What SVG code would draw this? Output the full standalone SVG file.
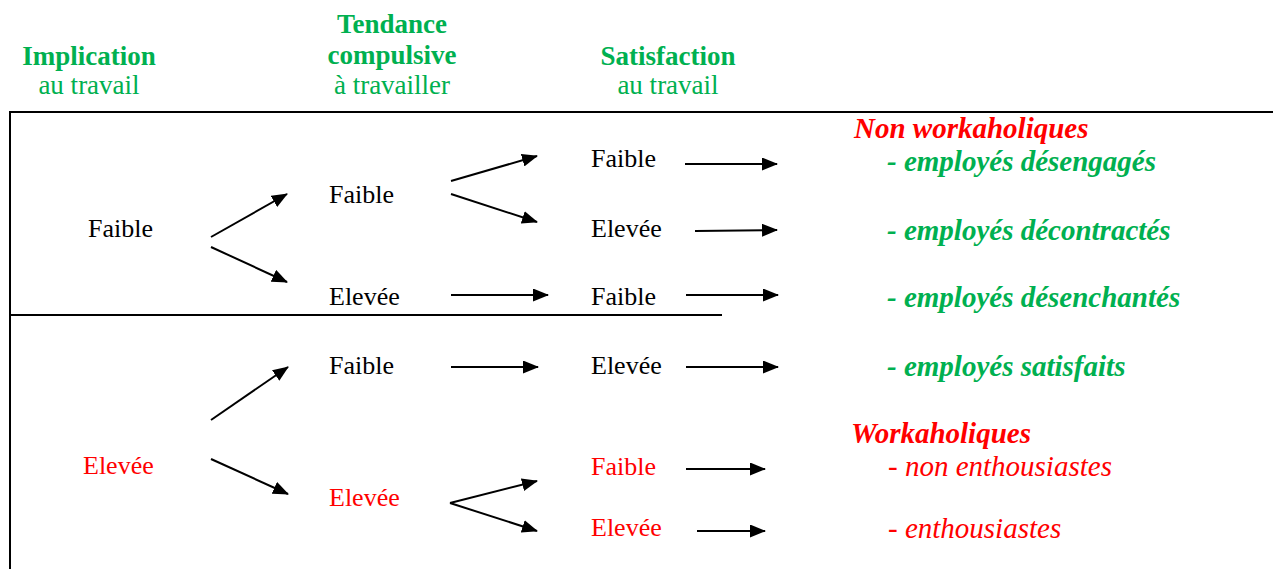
<svg xmlns="http://www.w3.org/2000/svg" width="1273" height="569" viewBox="0 0 1273 569">
  <style>
    text { font-family: "Liberation Serif", "Times New Roman", serif; font-size: 26px; }
    .head { fill: #00b050; text-anchor: middle; font-size: 27px; }
    .b { font-weight: bold; }
    .blk { fill: #000; }
    .red { fill: #ff0000; }
    .grn { fill: #00b050; }
    .bi { font-weight: bold; font-style: italic; font-size: 29px; }
    .it { font-style: italic; font-size: 29px; }
    .frame { stroke: #000; stroke-width: 2; fill: none; }
    .arr { stroke: #000; stroke-width: 2; fill: none; marker-end: url(#ah); }
  </style>
  <defs>
    <marker id="ah" viewBox="0 0 16 13" refX="15" refY="6.5" markerWidth="16" markerHeight="13" markerUnits="userSpaceOnUse" orient="auto">
      <path d="M0,0 L16,6.5 L0,13 Z" fill="#000"/>
    </marker>
  </defs>

  <!-- column headers -->
  <g id="header-implication">
    <text class="head b" x="89" y="65">Implication</text>
    <text class="head" x="89" y="94">au travail</text>
  </g>
  <g id="header-tendance">
    <text class="head b" x="392" y="33">Tendance</text>
    <text class="head b" x="392" y="64">compulsive</text>
    <text class="head" x="392" y="94">à travailler</text>
  </g>
  <g id="header-satisfaction">
    <text class="head b" x="668" y="65">Satisfaction</text>
    <text class="head" x="668" y="94">au travail</text>
  </g>

  <!-- frame lines -->
  <g id="frame">
    <path class="frame" d="M1273,112 H10 V569"/>
    <path class="frame" d="M10,315 H722"/>
  </g>

  <!-- implication level -->
  <g id="impl-faible"><text class="blk" x="88" y="237">Faible</text></g>
  <g id="impl-elevee"><text class="red" x="83" y="474">Elevée</text></g>

  <!-- compulsive tendency level -->
  <g id="tend-faible-1"><text class="blk" x="329" y="203">Faible</text></g>
  <g id="tend-elevee-1"><text class="blk" x="329" y="305">Elevée</text></g>
  <g id="tend-faible-2"><text class="blk" x="329" y="374">Faible</text></g>
  <g id="tend-elevee-2"><text class="red" x="329" y="506">Elevée</text></g>

  <!-- satisfaction level -->
  <g id="sat-1"><text class="blk" x="591" y="167">Faible</text></g>
  <g id="sat-2"><text class="blk" x="591" y="237">Elevée</text></g>
  <g id="sat-3"><text class="blk" x="591" y="305">Faible</text></g>
  <g id="sat-4"><text class="blk" x="591" y="374">Elevée</text></g>
  <g id="sat-5"><text class="red" x="591" y="475">Faible</text></g>
  <g id="sat-6"><text class="red" x="591" y="536">Elevée</text></g>

  <!-- outcome groups -->
  <g id="non-workaholiques">
    <text class="red bi" x="854" y="138">Non workaholiques</text>
    <text class="grn bi" x="887" y="171">- employés désengagés</text>
    <text class="grn bi" x="887" y="240">- employés décontractés</text>
    <text class="grn bi" x="887" y="307">- employés désenchantés</text>
    <text class="grn bi" x="887" y="376">- employés satisfaits</text>
  </g>
  <g id="workaholiques">
    <text class="red bi" x="851" y="443">Workaholiques</text>
    <text class="red it" x="888" y="476">- non enthousiastes</text>
    <text class="red it" x="888" y="538">- enthousiastes</text>
  </g>

  <!-- connectors -->
  <g id="connectors">
    <path class="arr" d="M211,237 L287,194"/>
    <path class="arr" d="M211,247 L287,282"/>
    <path class="arr" d="M451,181 L537,156"/>
    <path class="arr" d="M451,194 L537,222"/>
    <path class="arr" d="M451,295 L548,295"/>
    <path class="arr" d="M685,164 L777,164"/>
    <path class="arr" d="M695,231 L777,230"/>
    <path class="arr" d="M686,295 L778,295"/>

    <path class="arr" d="M211,420 L288,367"/>
    <path class="arr" d="M211,459 L288,494"/>
    <path class="arr" d="M451,367 L538,367"/>
    <path class="arr" d="M686,367 L778,367"/>
    <path class="arr" d="M450,503 L537,481"/>
    <path class="arr" d="M450,503 L537,531"/>
    <path class="arr" d="M686,469 L765,469"/>
    <path class="arr" d="M697,531 L765,531"/>
  </g>
</svg>
